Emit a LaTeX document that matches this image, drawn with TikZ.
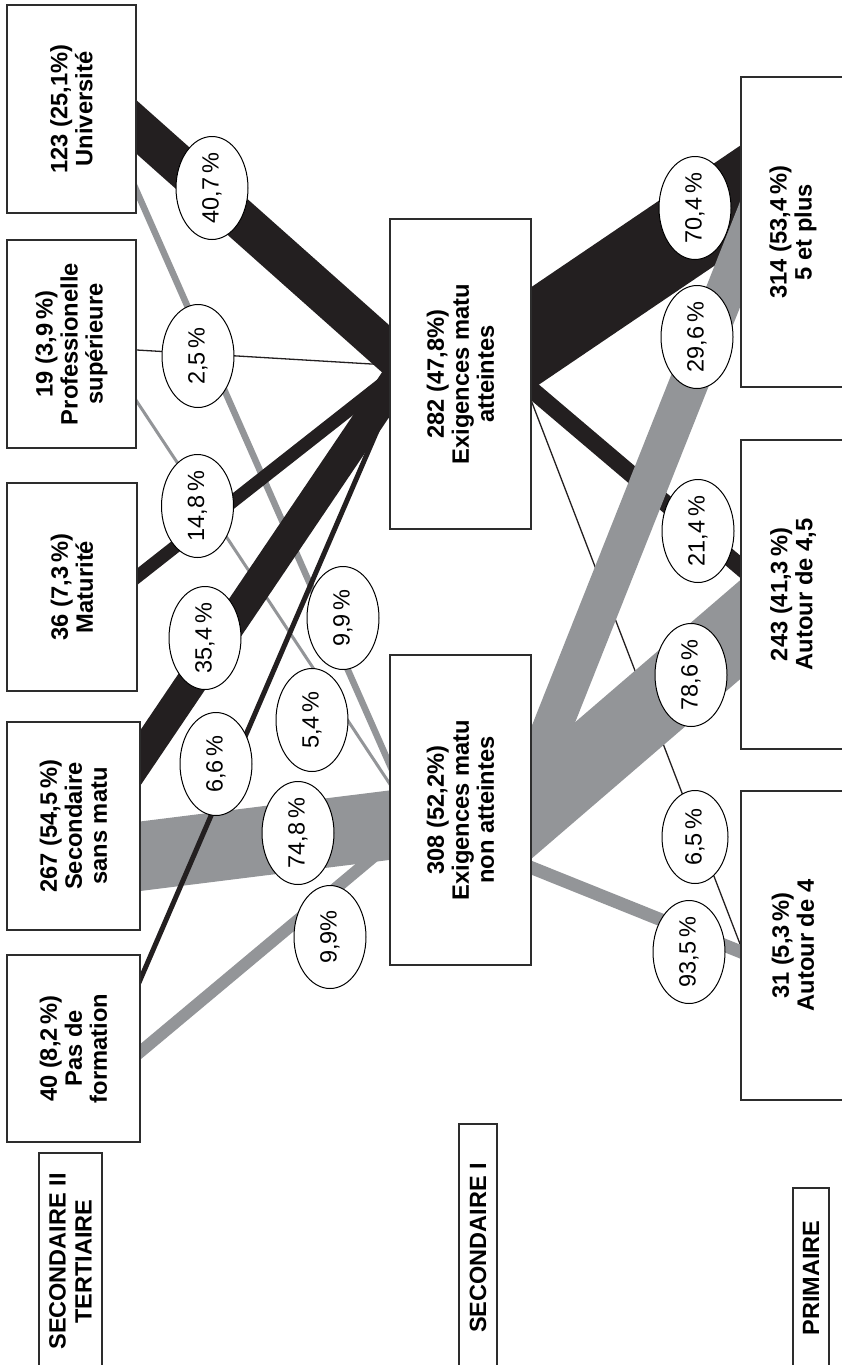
\documentclass[tikz,border=0pt]{standalone}
\usepackage{fontspec}
\setmainfont{Liberation Sans}
\usetikzlibrary{shapes.geometric}
\definecolor{flowgray}{RGB}{147,149,152}
\definecolor{flowblack}{RGB}{35,31,32}
\definecolor{boxline}{RGB}{45,45,45}
\begin{document}
\begin{tikzpicture}[x=1pt,y=-1pt,
  box/.style={rectangle, draw=boxline, line width=1.1pt, fill=white, inner sep=0pt, rotate=90,
    align=center, font=\bfseries\fontsize{23.7}{25}\selectfont},
  lbl/.style={rectangle, draw=boxline, line width=1.1pt, fill=white, inner sep=0pt, rotate=90,
    align=center, font=\bfseries\fontsize{23.5}{26}\selectfont},
  pct/.style={ellipse, draw=black, line width=1pt, fill=white, rotate=90, inner sep=0pt,
    minimum width=103pt, minimum height=72pt, font=\fontsize{23.5}{25}\selectfont},
  pcts/.style={pct, minimum width=93pt, minimum height=66pt},
  fk/.style={draw=flowblack, line cap=butt},
  fg/.style={draw=flowgray, line cap=butt}]
\useasboundingbox (0,0) rectangle (842,1365);
\clip (0,0) rectangle (842,1365);
% convergence and end points
\coordinate (cA) at (405,366);
\coordinate (cB) at (415,822);
\coordinate (cA2) at (498,361);
\coordinate (cA3) at (516,361);
\coordinate (sUA) at (96,91);
\coordinate (sPA) at (120,349);
\coordinate (sMA) at (110,598);
\coordinate (sSA) at (120,788);
\coordinate (sXA) at (125,1015);
\coordinate (sUB) at (126,167);
\coordinate (sPB) at (120,376);
\coordinate (sSB) at (110,860);
\coordinate (sXB) at (115,1073);
\coordinate (tA5) at (780,170);
\coordinate (tA45) at (770,592);
\coordinate (tA4) at (760,996);
\coordinate (sB5) at (480,909);
\coordinate (tB5) at (770,179);
\coordinate (sB45) at (480,853.5);
\coordinate (tB45) at (770,604);
\coordinate (sB4) at (480,847);
\coordinate (tB4) at (770,963.6);
% left gray flows
\draw[fg, line width=6.5pt] (sUB) -- (cB);
\draw[fg, line width=3pt] (sPB) -- (cB);
\draw[fg, line width=69pt] (sSB) -- (cB);
\draw[fg, line width=12pt] (sXB) -- (cB);
% left black flows
\draw[fk, line width=40pt] (sUA) -- (cA);
\draw[fk, line width=1.3pt] (sPA) -- (cA);
\draw[fk, line width=13pt] (sMA) -- (cA);
\draw[fk, line width=31pt] (sSA) -- (cA);
\draw[fk, line width=5pt] (sXA) -- (cA);
% right black flows
\draw[fk, line width=85pt] (cA2) -- (tA5);
\draw[fk, line width=17pt] (cA2) -- (tA45);
\draw[fk, line width=1.3pt] (cA3) -- (tA4);
% right gray flows
\draw[fg, line width=39pt] (sB5) -- (tB5);
\draw[fg, line width=75pt] (sB45) -- (tB45);
\draw[fg, line width=13pt] (sB4) -- (tB4);
% boxes, left column
\node[box, minimum width=208pt, minimum height=129pt] (univ) at (71.5,109) {123 (25,1\%)\\Université};
\node[box, minimum width=208pt, minimum height=129pt] (prof) at (71.5,344) {19 (3,9\,\%)\\Professionelle\\supérieure};
\node[box, minimum width=208pt, minimum height=130pt] (matu) at (72,587) {36 (7,3\,\%)\\Maturité};
\node[box, minimum width=208pt, minimum height=133pt] (secs) at (73.5,826) {267 (54,5\,\%)\\Secondaire\\sans matu};
\node[box, minimum width=187pt, minimum height=133pt] (pasf) at (73.5,1048.5) {40 (8,2\,\%)\\Pas de\\formation};
% middle column
\node[box, minimum width=310pt, minimum height=141pt] (att) at (460.5,374) {282 (47,8\%)\\Exigences matu\\atteintes};
\node[box, minimum width=310pt, minimum height=141pt] (natt) at (460.5,810) {308 (52,2\%)\\Exigences matu\\non atteintes};
% right column
\node[box, minimum width=310pt, minimum height=104pt] (cinq) at (793,232) {314 (53,4\,\%)\\5 et plus};
\node[box, minimum width=309pt, minimum height=104pt] (quat) at (793,594.5) {243 (41,3\,\%)\\Autour de 4,5};
\node[box, minimum width=309pt, minimum height=104pt] (quatre) at (793,945.5) {31 (5,3\,\%)\\Autour de 4};
% level labels
\node[lbl, minimum width=217pt, minimum height=63pt] (lsec2) at (70.5,1261.5) {SECONDAIRE II\\TERTIAIRE};
\node[lbl, minimum width=248pt, minimum height=38pt] (lsec1) at (478,1248) {SECONDAIRE I};
\node[lbl, minimum width=180pt, minimum height=36pt] (lprim) at (811,1278) {PRIMAIRE};
% percentages
\node[pct] (p1) at (212,188) {40,7\,\%};
\node[pct] (p2) at (198,356) {2,5\,\%};
\node[pct] (p3) at (197.5,506) {14,8\,\%};
\node[pct] (p4) at (205,638) {35,4\,\%};
\node[pct] (p5) at (343,618) {9,9\,\%};
\node[pct] (p6) at (312,720) {5,4\,\%};
\node[pct] (p7) at (216,764) {6,6\,\%};
\node[pct] (p8) at (298,833) {74,8\,\%};
\node[pct] (p9) at (330,937) {9,9\%};
\node[pct] (p10) at (695,208) {70,4\,\%};
\node[pct] (p11) at (697,337) {29,6\,\%};
\node[pct] (p12) at (698,531) {21,4\,\%};
\node[pct] (p13) at (691,675) {78,6\,\%};
\node[pcts] (p14) at (695,837) {6,5\,\%};
\node[pct] (p15) at (689,952) {93,5\,\%};
\end{tikzpicture}
\end{document}
